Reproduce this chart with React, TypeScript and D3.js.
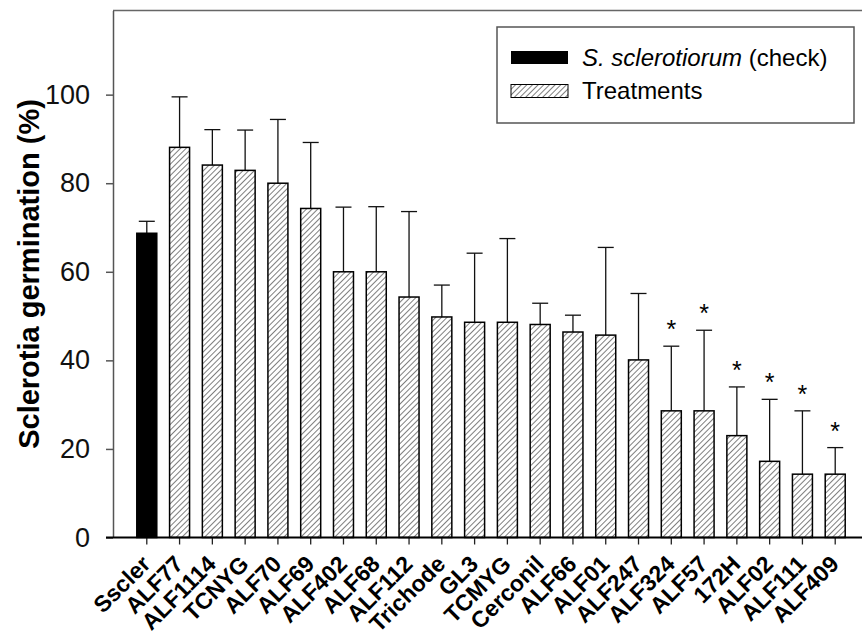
import React, { useRef, useEffect } from 'react';
import * as d3 from 'd3';

// treatment labels, left to right
const categories = [
  'Sscler', 'ALF77', 'ALF1114', 'TCNYG', 'ALF70', 'ALF69', 'ALF402', 'ALF68',
  'ALF112', 'Trichode', 'GL3', 'TCMYG', 'Cerconil', 'ALF66', 'ALF01', 'ALF247',
  'ALF324', 'ALF57', '172H', 'ALF02', 'ALF111', 'ALF409',
];
// mean germination (%)
const means = [
  68.7, 88.1, 84.1, 82.9, 80.0, 74.3, 60.0, 60.0, 54.3, 49.8, 48.6,
  48.6, 48.1, 46.4, 45.7, 40.1, 28.6, 28.6, 23.0, 17.2, 14.3, 14.3,
];
// upper error (SD)
const errors = [
  2.7, 11.4, 8.0, 9.1, 14.4, 14.9, 14.6, 14.7, 19.3, 7.2, 15.6,
  18.9, 4.8, 3.8, 19.8, 15.0, 14.6, 18.2, 11.0, 14.0, 14.3, 6.0,
];
// significantly different from check
const significant = [
  false, false, false, false, false, false, false, false, false, false, false,
  false, false, false, false, false, true, true, true, true, true, true,
];
const yTicks = [0, 20, 40, 60, 80, 100];
const legendLabels = ['S. sclerotiorum', 'Treatments'];

const FONT = '"Liberation Sans", Arial, Helvetica, sans-serif';

const App = () => {
  const svgRef = useRef<SVGSVGElement>(null);

  useEffect(() => {
    const width = 862;
    const height = 635;
    const left = 113;
    const top = 10.5;
    const bottom = 537.5;

    const svg = d3.select(svgRef.current)
      .attr('width', width)
      .attr('height', height)
      .style('font-family', FONT);

    svg.selectAll('*').remove();

    // hatch pattern
    const defs = svg.append('defs');
    defs.append('pattern')
      .attr('id', 'hatch')
      .attr('patternUnits', 'userSpaceOnUse')
      .attr('width', 4)
      .attr('height', 4)
      .attr('patternTransform', 'rotate(45)')
      .append('line')
      .attr('x1', 0).attr('y1', 0)
      .attr('x2', 0).attr('y2', 4)
      .attr('stroke', '#000')
      .attr('stroke-width', 1);

    const x = d3.scaleBand()
      .domain(categories)
      .range([130.4, 851.6])
      .paddingInner(0.39)
      .paddingOuter(0.195);

    const y = d3.scaleLinear()
      .domain([0, 119])
      .range([bottom, top]);

    const data = categories.map((c, i) => ({
      name: c, mean: means[i], err: errors[i], sig: significant[i], check: i === 0,
    }));

    // error bars (upper only)
    const eb = svg.append('g');
    data.forEach(d => {
      const cx = x(d.name)! + x.bandwidth() / 2;
      eb.append('line')
        .attr('x1', cx).attr('x2', cx)
        .attr('y1', y(d.mean)).attr('y2', y(d.mean + d.err))
        .attr('stroke', '#111').attr('stroke-width', 1.3);
      eb.append('line')
        .attr('x1', cx - 8).attr('x2', cx + 8)
        .attr('y1', y(d.mean + d.err)).attr('y2', y(d.mean + d.err))
        .attr('stroke', '#111').attr('stroke-width', 1.3);
      if (d.sig) {
        eb.append('text')
          .attr('x', cx)
          .attr('y', y(d.mean + d.err) - 8)
          .attr('text-anchor', 'middle')
          .attr('font-size', 25)
          .text('*');
      }
    });

    // bars
    svg.append('g')
      .selectAll('rect')
      .data(data)
      .enter().append('rect')
      .attr('x', d => x(d.name)!)
      .attr('y', d => y(d.mean))
      .attr('width', x.bandwidth())
      .attr('height', d => bottom - y(d.mean))
      .attr('fill', d => d.check ? '#000' : 'url(#hatch)')
      .attr('stroke', '#000')
      .attr('stroke-width', 1.5);

    // top frame
    svg.append('line')
      .attr('x1', left).attr('x2', width)
      .attr('y1', top).attr('y2', top)
      .attr('stroke', '#666').attr('stroke-width', 1.5);

    // y axis
    const yAxis = svg.append('g')
      .attr('transform', `translate(${left},0)`)
      .call(d3.axisLeft(y).tickValues(yTicks).tickSize(7).tickSizeOuter(0).tickPadding(16));
    yAxis.select('.domain').attr('stroke', '#555').attr('stroke-width', 1.5);
    yAxis.selectAll('.tick line').attr('stroke', '#555').attr('stroke-width', 1.5);
    yAxis.selectAll('.tick text')
      .attr('font-size', 27)
      .attr('font-family', FONT)
      .attr('fill', '#111');

    // x axis
    const xAxis = svg.append('g')
      .attr('transform', `translate(0,${bottom})`)
      .call(d3.axisBottom(x).tickSize(7).tickSizeOuter(0));
    xAxis.select('.domain').remove();
    xAxis.selectAll('.tick line').attr('stroke', '#222').attr('stroke-width', 1.3);
    xAxis.selectAll('.tick text')
      .attr('font-size', 23)
      .attr('font-weight', 'bold')
      .attr('font-family', FONT)
      .attr('fill', '#000')
      .attr('text-anchor', 'end')
      .attr('y', 0)
      .attr('dy', 0)
      .attr('transform', 'translate(5,28) rotate(-45)');
    svg.append('line')
      .attr('x1', left - 7).attr('x2', width)
      .attr('y1', bottom).attr('y2', bottom)
      .attr('stroke', '#000').attr('stroke-width', 2);

    // y title
    svg.append('text')
      .attr('transform', `translate(39,${(top + bottom) / 2}) rotate(-90)`)
      .attr('text-anchor', 'middle')
      .attr('font-size', 29)
      .attr('font-weight', 'bold')
      .text('Sclerotia germination (%)');

    // legend
    const lg = svg.append('g');
    lg.append('rect')
      .attr('x', 497).attr('y', 27)
      .attr('width', 357).attr('height', 96)
      .attr('fill', '#fff')
      .attr('stroke', '#555').attr('stroke-width', 1.5);
    lg.append('rect')
      .attr('x', 511).attr('y', 51).attr('width', 57).attr('height', 13)
      .attr('fill', '#000');
    lg.append('rect')
      .attr('x', 511).attr('y', 84.5).attr('width', 57).attr('height', 13)
      .attr('fill', 'url(#hatch)')
      .attr('stroke', '#000').attr('stroke-width', 1);
    const t1 = lg.append('text')
      .attr('x', 582).attr('y', 66)
      .attr('font-size', 24);
    t1.append('tspan').attr('font-style', 'italic').text(legendLabels[0]);
    t1.append('tspan').text(' (check)');
    lg.append('text')
      .attr('x', 582).attr('y', 99)
      .attr('font-size', 24)
      .text(legendLabels[1]);
  }, []);

  return (
    <svg ref={svgRef} style={{ position: 'absolute', left: 0, top: 0 }}></svg>
  );
};

export default App;
